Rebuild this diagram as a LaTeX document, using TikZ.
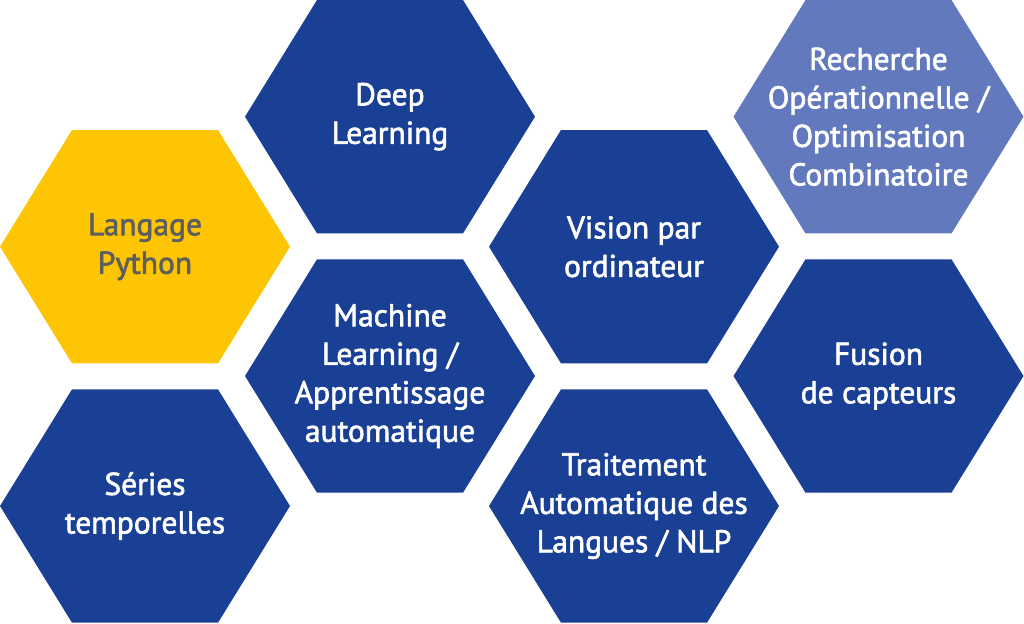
\documentclass[tikz,border=0pt]{standalone}
\usepackage{fontspec}
\setmainfont{PT Sans}
\newfontfamily\hexfont{PT Sans}[FakeBold=2]
\definecolor{hexblue}{HTML}{194095}
\definecolor{hexlight}{HTML}{6279BE}
\definecolor{hexyellow}{HTML}{FDC503}
\definecolor{pygray}{HTML}{5E5E5E}
\tikzset{
  hexlabel/.style={align=center,text=white,font=\hexfont\fontsize{31.5}{38.5}\selectfont,inner sep=0pt},
  hexfill/.style={fill=hexblue,draw=none}
}
\newcommand{\hexat}[3]{% #1 style, #2 x, #3 y
  \fill[#1] (#2-145,#3) -- (#2-73,#3-116.7) -- (#2+73,#3-116.7) -- (#2+145,#3)
    -- (#2+73,#3+116.7) -- (#2-73,#3+116.7) -- cycle;}
\begin{document}
\begin{tikzpicture}[x=1pt,y=-1pt]
\useasboundingbox (0,0) rectangle (1024,623);
\hexat{fill=hexyellow}{145}{246.7}
\hexat{hexfill}{145}{506}
\hexat{hexfill}{390}{116.7}
\hexat{hexfill}{390}{376}
\hexat{hexfill}{634}{246.7}
\hexat{hexfill}{634}{506}
\hexat{fill=hexlight}{878.5}{116.7}
\hexat{hexfill}{878.5}{376}
\node[hexlabel,text=pygray] (python) at (145,246.7) {Langage\\Python};
\node[hexlabel] (series) at (145,506) {Séries\\temporelles};
\node[hexlabel] (deep) at (390,116.7) {Deep\\Learning};
\node[hexlabel] (ml) at (390,376) {Machine\\Learning /\\Apprentissage\\automatique};
\node[hexlabel] (vision) at (634,246.7) {Vision par\\ordinateur};
\node[hexlabel] (nlp) at (634,506) {Traitement\\Automatique des\\Langues / NLP};
\node[hexlabel] (ro) at (878.5,116.7) {Recherche\\Opérationnelle /\\Optimisation\\Combinatoire};
\node[hexlabel] (fusion) at (878.5,376) {Fusion\\de capteurs};
\end{tikzpicture}
\end{document}
